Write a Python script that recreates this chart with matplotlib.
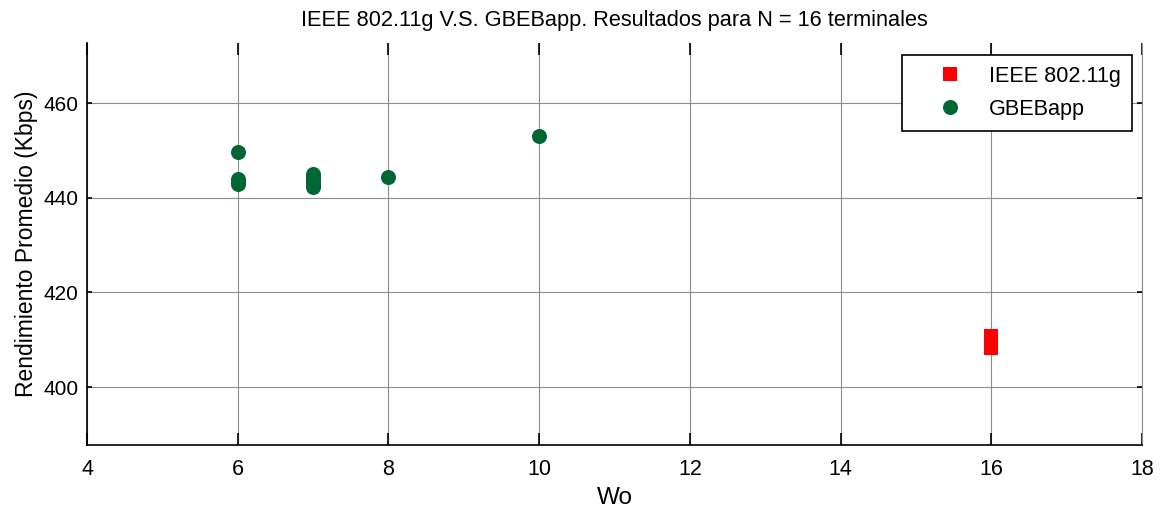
import matplotlib
matplotlib.use("Agg")
import matplotlib.pyplot as plt

plt.rcParams['font.family'] = ['Liberation Sans', 'DejaVu Sans']

# Average throughput (Kbps) for each initial window Wo
ieee_wo = [16, 16, 16]
ieee_kbps = [410.8, 409.5, 408.2]

gbe_wo = [6, 6, 6, 6, 7, 7, 7, 7, 7, 8, 10]
gbe_kbps = [449.7, 444.0, 443.2, 442.8, 445.0, 444.4, 443.7, 443.0, 442.3, 444.4, 453.1]

x_ticks = [4, 6, 8, 10, 12, 14, 16, 18]
y_ticks = [400, 420, 440, 460]

fig = plt.figure(figsize=(11.62, 5.12), dpi=100)
ax = fig.add_axes([0.0749, 0.1309, 0.9079, 0.7851])

ax.plot(ieee_wo, ieee_kbps, linestyle='none', marker='s', markersize=10,
        color='#ff0000', markeredgewidth=0, label='IEEE 802.11g')
ax.plot(gbe_wo, gbe_kbps, linestyle='none', marker='o', markersize=10.8,
        color='#006633', markeredgewidth=0, label='GBEBapp')

ax.set_xlim(4, 18)
ax.set_ylim(387.75, 472.7)
ax.set_xticks(x_ticks)
ax.set_yticks(y_ticks)
ax.grid(True, color='#8c8c8c', linewidth=0.8)
ax.set_axisbelow(True)

ax.spines['top'].set_visible(False)
ax.spines['right'].set_color('#8c8c8c')
ax.spines['right'].set_linewidth(0.8)
for s in ('left', 'bottom'):
    ax.spines[s].set_linewidth(1.2)
    ax.spines[s].set_color('black')

ax.tick_params(axis='x', direction='in', length=8.5, width=1.2, top=True,
               labelsize=15.5, pad=10)
ax.tick_params(axis='y', direction='in', length=3.5, width=1.2, right=True,
               labelsize=15, pad=6)

ax.set_title('IEEE 802.11g V.S. GBEBapp. Resultados para N = 16 terminales',
             fontsize=15.7, pad=12)
ax.set_xlabel('Wo', fontsize=17.5, labelpad=5)
ax.set_ylabel('Rendimiento Promedio (Kbps)', fontsize=16.5, labelpad=4)

leg = ax.legend(loc='upper right', bbox_to_anchor=(0.9905, 0.970),
                fontsize=15.6, frameon=True, fancybox=False, framealpha=1,
                edgecolor='black', handlelength=3.5, handletextpad=0.05,
                borderpad=0.5, labelspacing=0.55, borderaxespad=0)
leg.get_frame().set_linewidth(1.2)

fig.savefig('out.png', dpi=100)
